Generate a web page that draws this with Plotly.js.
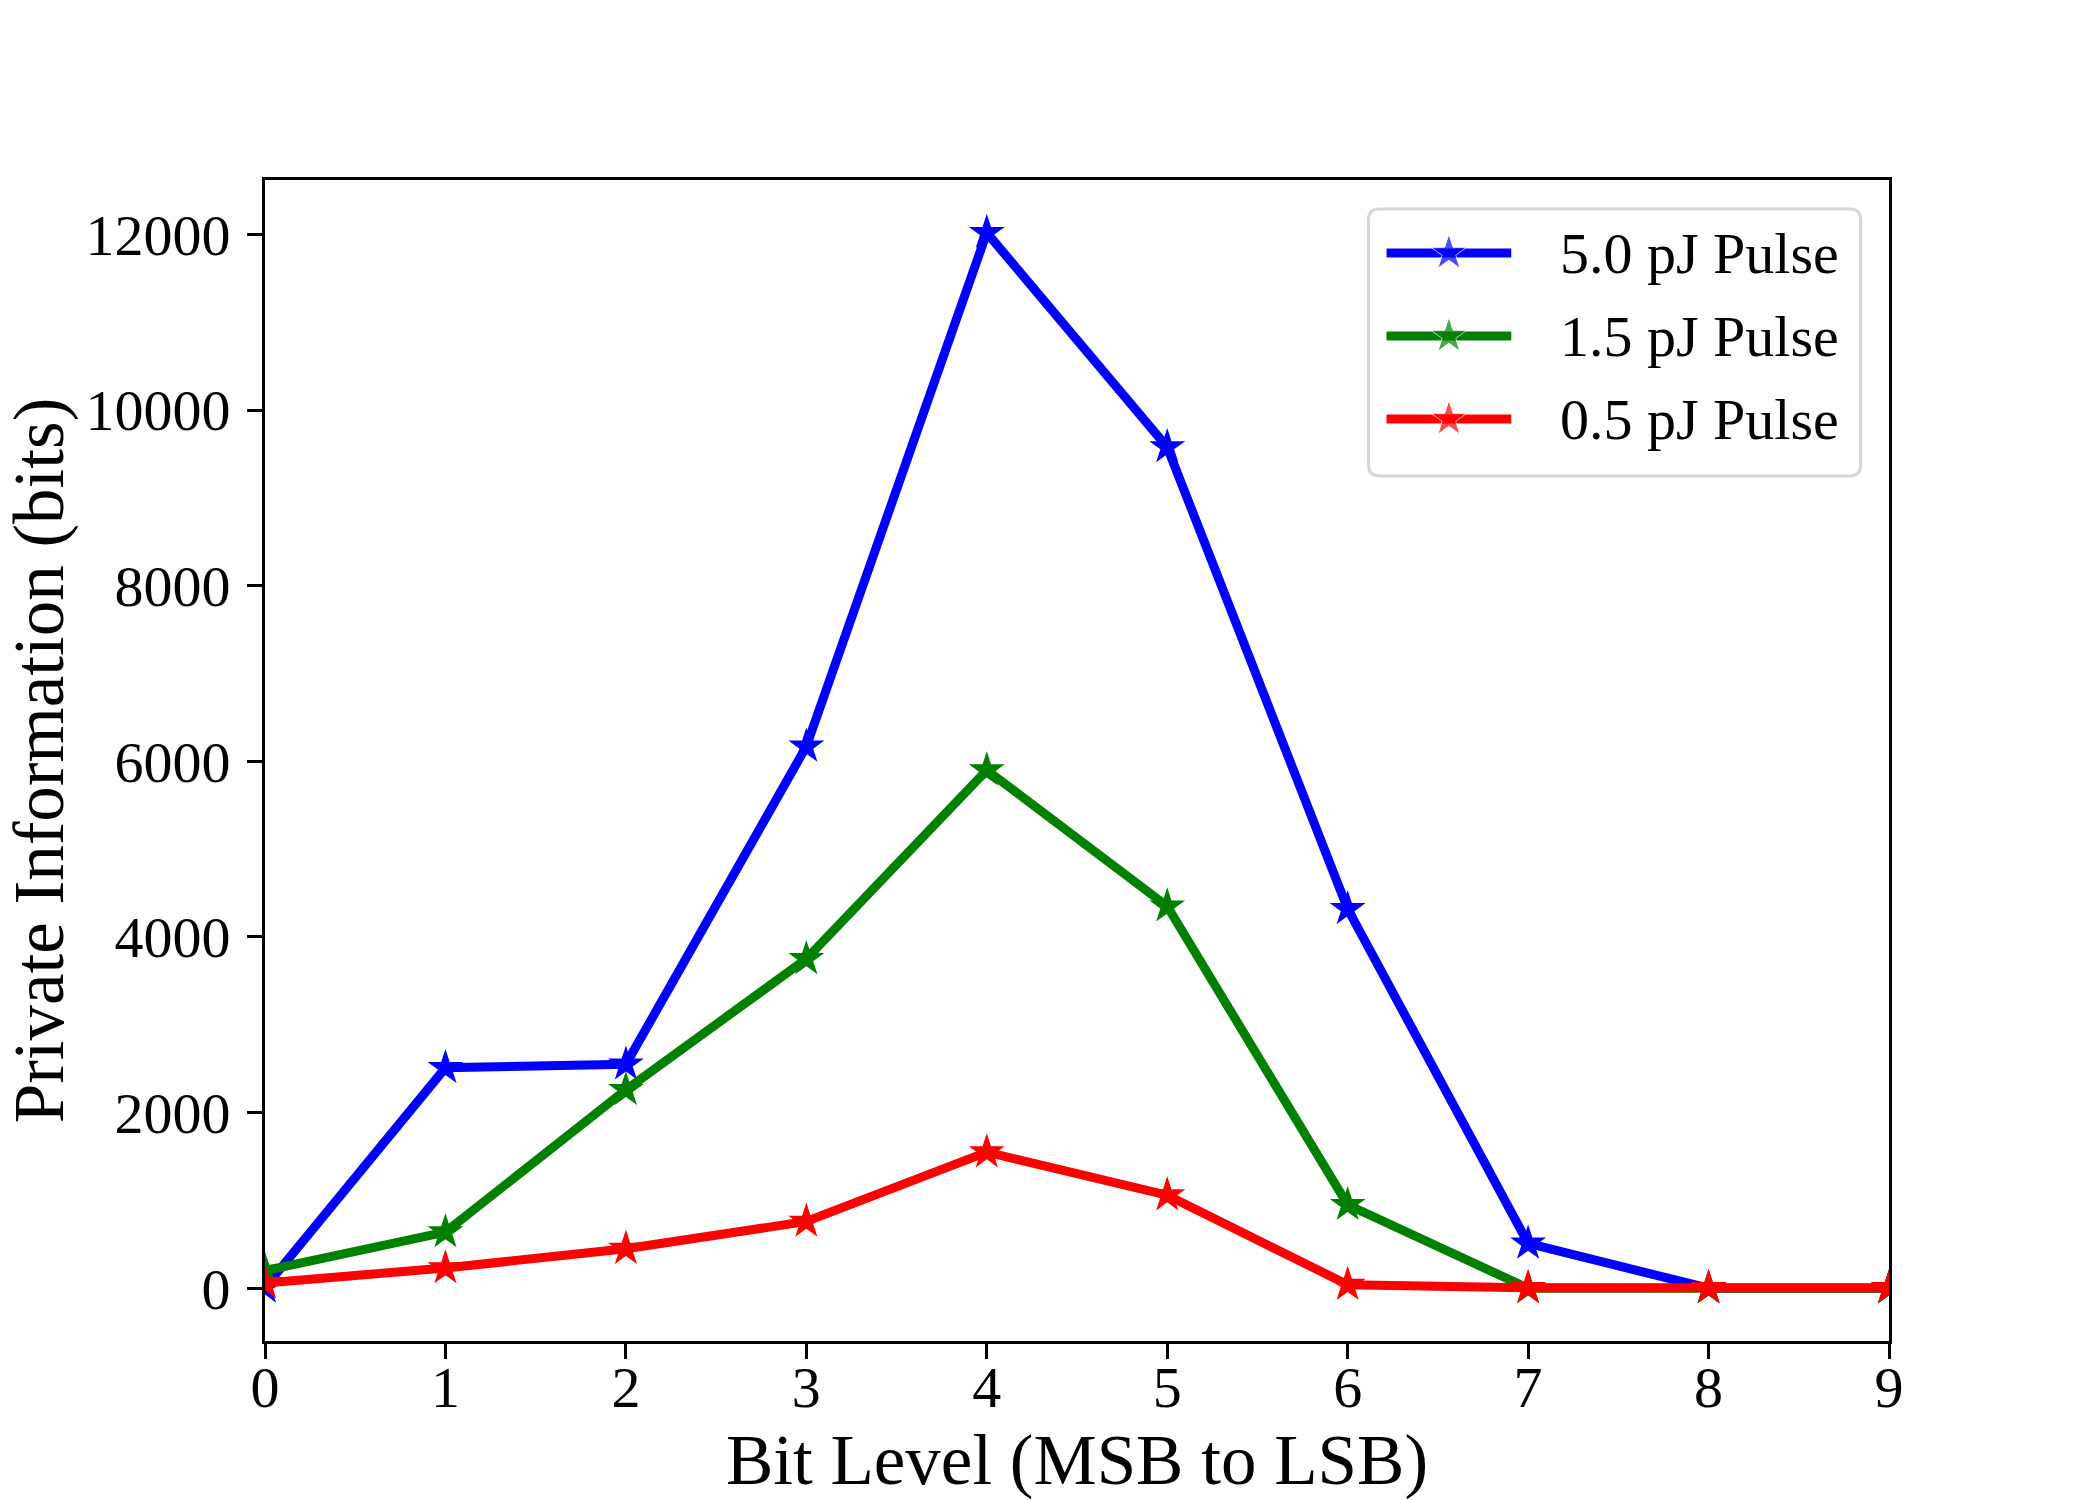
<!DOCTYPE html>
<html>
<head>
<meta charset="utf-8">
<script src="https://cdn.plot.ly/plotly-3.0.1.min.js"></script>
<style>
  html, body { margin:0; padding:0; background:#fff; }
  #chart { width:2100px; height:1500px; }
</style>
</head>
<body>
<div id="chart"></div>
<script>
// values
const bitLevels = [0, 1, 2, 3, 4, 5, 6, 7, 8, 9];
const pulse50 = [10, 2510, 2550, 6170, 12020, 9580, 4320, 510, 0, 0];
const pulse15 = [200, 640, 2260, 3750, 5900, 4350, 950, 0, 0, 0];
const pulse05 = [60, 230, 450, 760, 1550, 1060, 40, 5, 5, 5];

const seriesNames  = ['5.0 pJ Pulse', '1.5 pJ Pulse', '0.5 pJ Pulse'];
const seriesValues = [pulse50, pulse15, pulse05];
const seriesColors = ['#0000ff', '#008000', '#ff0000'];

const yTicks = [0, 2000, 4000, 6000, 8000, 10000, 12000];

const FONT = '"Liberation Serif", "Times New Roman", serif';
const LINE_W = 9;
const STAR = 27;

const data = seriesValues.map((vals, i) => ({
  x: bitLevels,
  y: vals,
  type: 'scatter',
  mode: 'lines+markers',
  name: seriesNames[i],
  showlegend: false,
  line: { color: seriesColors[i], width: LINE_W },
  marker: { symbol: 'star', size: STAR, color: seriesColors[i] }
}));

// matplotlib-style legend box, drawn on a hidden 0..1 overlay axis
const leg = { x0: 0.6795, x1: 0.9825, y0: 0.7451, y1: 0.975,
              lineX: [0.6906, 0.7290, 0.7674], textX: 0.7960,
              rows: [0.9371, 0.8656, 0.7941] };

seriesNames.forEach((name, i) => {
  data.push({
    x: leg.lineX,
    y: leg.lineX.map(() => leg.rows[i]),
    xaxis: 'x2', yaxis: 'y2',
    type: 'scatter',
    mode: 'lines+markers',
    hoverinfo: 'skip',
    showlegend: false,
    line: { color: seriesColors[i], width: LINE_W },
    marker: { symbol: 'star', size: [0, STAR, 0], color: seriesColors[i] }
  });
});

function roundedRect(x0, x1, y0, y1, rx, ry){
  return 'M' + (x0+rx) + ',' + y1 +
    ' L' + (x1-rx) + ',' + y1 + ' Q' + x1 + ',' + y1 + ' ' + x1 + ',' + (y1-ry) +
    ' L' + x1 + ',' + (y0+ry) + ' Q' + x1 + ',' + y0 + ' ' + (x1-rx) + ',' + y0 +
    ' L' + (x0+rx) + ',' + y0 + ' Q' + x0 + ',' + y0 + ' ' + x0 + ',' + (y0+ry) +
    ' L' + x0 + ',' + (y1-ry) + ' Q' + x0 + ',' + y1 + ' ' + (x0+rx) + ',' + y1 + ' Z';
}

const layout = {
  width: 2100,
  height: 1500,
  paper_bgcolor: '#fff',
  plot_bgcolor: '#fff',
  margin: { l: 265, r: 211, t: 180, b: 159 },
  font: { family: FONT, color: '#000', size: 58 },
  showlegend: false,
  xaxis: {
    range: [0, 9],
    tickvals: bitLevels,
    ticktext: bitLevels.map(String),
    showgrid: false, zeroline: false,
    showline: true, linecolor: '#000', linewidth: 3, mirror: true,
    ticks: 'outside', ticklen: 15, tickwidth: 3, tickcolor: '#000',
    ticklabelstandoff: -22,
    tickfont: { family: FONT, size: 58 },
    title: { text: 'Bit Level (MSB to LSB)', font: { family: FONT, size: 71 }, standoff: 43 },
    automargin: false
  },
  yaxis: {
    range: [-601, 12621],
    tickvals: yTicks,
    ticktext: yTicks.map(String),
    showgrid: false, zeroline: false,
    showline: true, linecolor: '#000', linewidth: 3, mirror: true,
    ticks: 'outside', ticklen: 15, tickwidth: 3, tickcolor: '#000',
    ticklabelstandoff: 5,
    tickfont: { family: FONT, size: 58 },
    title: { text: 'Private Information (bits)', font: { family: FONT, size: 71 }, standoff: 30 },
    automargin: false
  },
  xaxis2: { overlaying: 'x', range: [0, 1], visible: false, fixedrange: true },
  yaxis2: { overlaying: 'y', range: [0, 1], visible: false, fixedrange: true },
  shapes: [{
    type: 'path', xref: 'paper', yref: 'paper', layer: 'below',
    path: roundedRect(leg.x0, leg.x1, leg.y0, leg.y1, 0.0066, 0.0092),
    fillcolor: '#ffffff', line: { color: '#d6d6d6', width: 3 }
  }],
  annotations: seriesNames.map((name, i) => ({
    text: name, xref: 'paper', yref: 'paper',
    x: leg.textX, y: leg.rows[i], xanchor: 'left', yanchor: 'middle',
    showarrow: false, font: { family: FONT, size: 58, color: '#000' }
  }))
};

Plotly.newPlot('chart', data, layout, { displayModeBar: false, responsive: false });
</script>
</body>
</html>
